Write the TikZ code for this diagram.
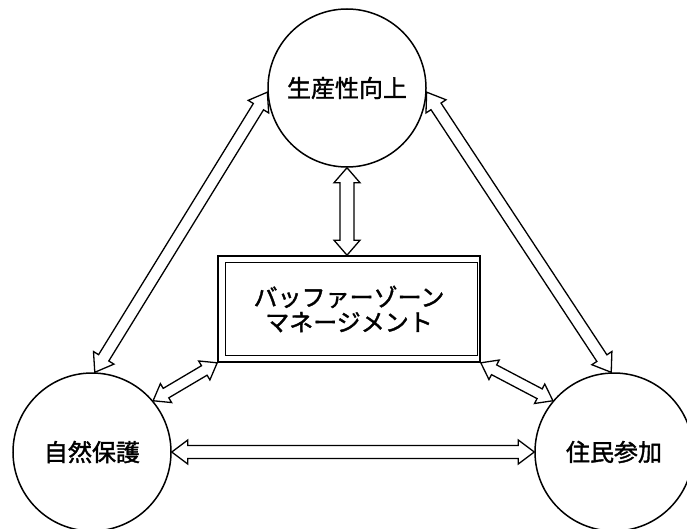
\documentclass[tikz,border=0pt]{standalone}
\usepackage{fontspec}
\newfontfamily\jp{Noto Sans CJK JP}[FakeBold=1.5]
\usetikzlibrary{calc}
\tikzset{
  circ/.style={circle, draw=black, line width=1.5pt, minimum size=158pt, inner sep=0pt,
    font=\jp\fontsize{24}{26}\selectfont},
  frame/.style={draw=black, line width=1.6pt, minimum width=262pt, minimum height=106pt,
    inner sep=0pt, align=center, font=\jp\fontsize{24}{25}\selectfont},
  fat/.style={draw=black, line width=1.3pt, fill=white, line join=miter},
}
% #1 shaft half width, #2 head half width, #3 head length, #4 start, #5 end
\newcommand\fatarrow[5]{%
  \path (#4) coordinate (fa-s) (#5) coordinate (fa-e);
  \path ($(fa-s)!#3!(fa-e)$) coordinate (fa-s1)
        ($(fa-e)!#3!(fa-s)$) coordinate (fa-e1);
  \draw[fat] (fa-s)
    -- ($(fa-s1)!#2!90:(fa-e)$)
    -- ($(fa-s1)!#1!90:(fa-e)$)
    -- ($(fa-e1)!#1!-90:(fa-s)$)
    -- ($(fa-e1)!#2!-90:(fa-s)$)
    -- (fa-e)
    -- ($(fa-e1)!#2!90:(fa-s)$)
    -- ($(fa-e1)!#1!90:(fa-s)$)
    -- ($(fa-s1)!#1!-90:(fa-e)$)
    -- ($(fa-s1)!#2!-90:(fa-e)$)
    -- cycle;}
\begin{document}
\begin{tikzpicture}[x=1pt,y=-1pt]
\useasboundingbox (0,0) rectangle (687,529);
\fill[white] (0,0) rectangle (687,529);
\node[circ] (top) at (347,88) {生産性向上};
\node[circ] (left) at (92,452) {自然保護};
\node[circ] (right) at (614,452) {住民参加};
\node[frame] (box) at (349,309) {バッファーゾーン\\マネージメント};
\draw[line width=1.1pt] ([shift={(8,7)}]box.north west) rectangle ([shift={(-3,-7)}]box.south east);
\coordinate (boxtop) at (box.north -| top.south);
% long diagonal arrows
\fatarrow{6pt}{12pt}{17pt}{top.183}{left.88}
\fatarrow{6pt}{12pt}{17pt}{top.357}{right.92}
% vertical arrow
\fatarrow{7pt}{13pt}{15pt}{top.south}{boxtop}
% corner arrows
\fatarrow{5.5pt}{11pt}{15pt}{box.south west}{left.40}
\fatarrow{5.5pt}{11pt}{15pt}{box.south east}{right.140}
% horizontal arrow
\fatarrow{6.5pt}{12pt}{16pt}{left.east}{right.west}
\end{tikzpicture}
\end{document}
